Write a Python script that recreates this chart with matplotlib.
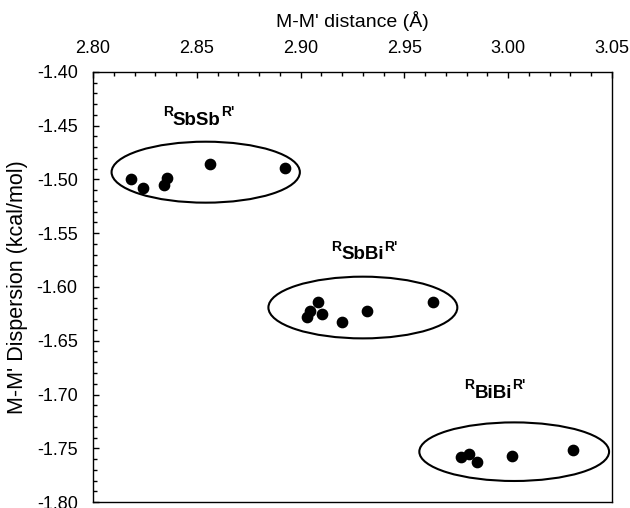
import numpy as np
import matplotlib
matplotlib.use('Agg')
import matplotlib.pyplot as plt
from matplotlib.patches import Ellipse
from matplotlib.ticker import MultipleLocator, FormatStrFormatter

plt.rcParams['font.family'] = ['Liberation Sans', 'DejaVu Sans']

# data
sbsb_x = [2.8183, 2.8242, 2.8342, 2.8355, 2.8564, 2.8925]
sbsb_y = [-1.4998, -1.5076, -1.5051, -1.4983, -1.4859, -1.4890]
sbbi_x = [2.9029, 2.9085, 2.9045, 2.9102, 2.9198, 2.9318, 2.9639]
sbbi_y = [-1.6282, -1.6137, -1.6220, -1.6251, -1.6328, -1.6223, -1.6137]
bibi_x = [2.9771, 2.9813, 2.9848, 3.0020, 3.0314]
bibi_y = [-1.7579, -1.7553, -1.7631, -1.7569, -1.7516]

groups = ['SbSb', 'SbBi', 'BiBi']
ell_center = [(2.8543, -1.4932), (2.9300, -1.6191), (3.0029, -1.7532)]
ell_size = [(0.0907, 0.0567), (0.0910, 0.0574), (0.0914, 0.0545)]
label_pos = [(2.8500, -1.4447), (2.9300, -1.5702), (2.9928, -1.6989)]

fig = plt.figure(figsize=(6.3, 5.08), dpi=100)
ax = fig.add_axes([0.1476, 0.0118, 0.8238, 0.8465])

for xs, ys in [(sbsb_x, sbsb_y), (sbbi_x, sbbi_y), (bibi_x, bibi_y)]:
    ax.scatter(xs, ys, s=55, color='black', zorder=3)

for name, c, (w, h), (lx, ly) in zip(groups, ell_center, ell_size, label_pos):
    ax.add_patch(Ellipse(c, w, h, fill=False, edgecolor='black', linewidth=1.5))
    t = ax.text(lx, ly, name, ha='center', va='center', fontsize=13.5, fontweight='bold')
    ax.annotate('R', xy=(0, 0.55), xycoords=t, ha='right', va='bottom',
                fontsize=10, fontweight='bold')
    ax.annotate("R'", xy=(1, 0.55), xycoords=t, ha='left', va='bottom',
                fontsize=10, fontweight='bold')

ax.set_xlim(2.80, 3.05)
ax.set_ylim(-1.80, -1.40)
ax.xaxis.set_major_locator(MultipleLocator(0.05))
ax.xaxis.set_minor_locator(MultipleLocator(0.01))
ax.yaxis.set_major_locator(MultipleLocator(0.05))
ax.yaxis.set_minor_locator(MultipleLocator(0.01))
ax.xaxis.set_major_formatter(FormatStrFormatter('%.2f'))
ax.yaxis.set_major_formatter(FormatStrFormatter('%.2f'))
ax.xaxis.tick_top()
ax.xaxis.set_label_position('top')
ax.tick_params(which='both', direction='in', top=True, bottom=False, right=False,
               labelsize=13, width=1)
ax.tick_params(which='major', length=4, pad=11)
ax.tick_params(which='minor', length=3)
for sp in ax.spines.values():
    sp.set_linewidth(1)

ax.set_xlabel('M-M\' distance (Å)', fontsize=14, labelpad=9)
ax.set_ylabel('M-M\' Dispersion (kcal/mol)', fontsize=15.5, labelpad=6)

fig.savefig('out.png', dpi=100)
